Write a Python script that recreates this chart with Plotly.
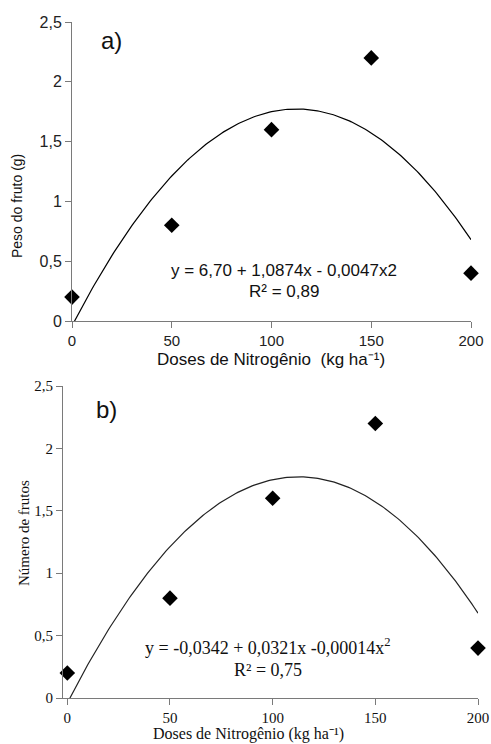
import numpy as np
import plotly.graph_objects as go

W, H = 491, 744

doses = [0, 50, 100, 150, 200]
peso_fruto = [0.2, 0.8, 1.6, 2.2, 0.4]
numero_frutos = [0.2, 0.8, 1.6, 2.2, 0.4]

# quadratic trend coefficients as drawn (a + b x + c x^2)
fit_a, fit_b, fit_c = -0.04, 0.0322, -0.000143

x_ticks = [0, 50, 100, 150, 200]
y_ticks = [0, 0.5, 1, 1.5, 2, 2.5]
y_tick_text = ["0", "0,5", "1", "1,5", "2", "2,5"]

xs = np.linspace(0, 200, 201)
ys = fit_a + fit_b * xs + fit_c * xs ** 2

def px_x(p):
    return p / W

def px_y(p):
    return 1 - p / H

fig = go.Figure()

# top panel
fig.add_trace(go.Scatter(x=xs, y=ys, mode="lines", line=dict(color="black", width=1.2),
                         xaxis="x", yaxis="y", showlegend=False, hoverinfo="skip"))
fig.add_trace(go.Scatter(x=doses, y=peso_fruto, mode="markers", cliponaxis=False,
                         marker=dict(symbol="diamond", size=12, color="black"),
                         xaxis="x", yaxis="y", showlegend=False))
# bottom panel
fig.add_trace(go.Scatter(x=xs, y=ys, mode="lines", line=dict(color="#222", width=1.2),
                         xaxis="x2", yaxis="y2", showlegend=False, hoverinfo="skip"))
fig.add_trace(go.Scatter(x=doses, y=numero_frutos, mode="markers", cliponaxis=False,
                         marker=dict(symbol="diamond", size=12, color="black"),
                         xaxis="x2", yaxis="y2", showlegend=False))

sans = "Liberation Sans, Arial, sans-serif"
serif = "Liberation Serif, Times New Roman, serif"

axis_common = dict(showgrid=False, zeroline=False, showline=True, linecolor="#7a7a7a",
                   linewidth=1, ticks="outside", tickcolor="#7a7a7a", ticklen=6,
                   automargin=False)

fig.update_layout(
    width=W, height=H, margin=dict(l=0, r=0, t=0, b=0),
    paper_bgcolor="white", plot_bgcolor="white",
    xaxis=dict(domain=[px_x(72), px_x(471)], range=[0, 200], anchor="y",
               tickvals=x_ticks, tickfont=dict(family=sans, size=15, color="#222"),
               **axis_common),
    yaxis=dict(domain=[px_y(321), px_y(22)], range=[0, 2.5], anchor="x",
               tickvals=y_ticks, ticktext=y_tick_text,
               tickfont=dict(family=sans, size=16, color="#222"), **axis_common),
    xaxis2=dict(domain=[px_x(63), px_x(478)], range=[-2.1, 200], anchor="y2",
                tickvals=x_ticks, tickfont=dict(family=serif, size=15, color="#111"),
                **axis_common),
    yaxis2=dict(domain=[px_y(698), px_y(386)], range=[0, 2.5], anchor="x2",
                tickvals=y_ticks, ticktext=y_tick_text,
                tickfont=dict(family=serif, size=15, color="#111"), **axis_common),
)

def ann(text, x, y, size, family, angle=0, color="#111", xanchor="center", yanchor="middle"):
    fig.add_annotation(text=text, x=px_x(x), y=px_y(y), xref="paper", yref="paper",
                       showarrow=False, textangle=angle, xanchor=xanchor, yanchor=yanchor,
                       font=dict(family=family, size=size, color=color))

# top texts
ann("a)", 111, 41, 24, sans)
ann("Peso do fruto (g)", 17, 206, 14, sans, angle=-90)
ann("Doses de Nitrogênio  (kg ha⁻¹)", 271, 359, 17, sans)
ann("y = 6,70 + 1,0874x - 0,0047x2", 284, 282, 17, sans, yanchor="bottom")
ann("R² = 0,89", 284, 280, 17, sans, yanchor="top")

# bottom texts
ann("b)", 106, 410, 24, sans)
ann("Número de frutos", 24, 533, 15, serif, angle=-90)
ann("Doses de Nitrogênio (kg ha⁻¹)", 249, 734, 16, serif)
ann("y = -0,0342 + 0,0321x -0,00014x<sup>2</sup>", 268, 660, 18, serif, yanchor="bottom")
ann("R² = 0,75", 268, 658, 18, serif, yanchor="top")

fig.write_html("out.html")
